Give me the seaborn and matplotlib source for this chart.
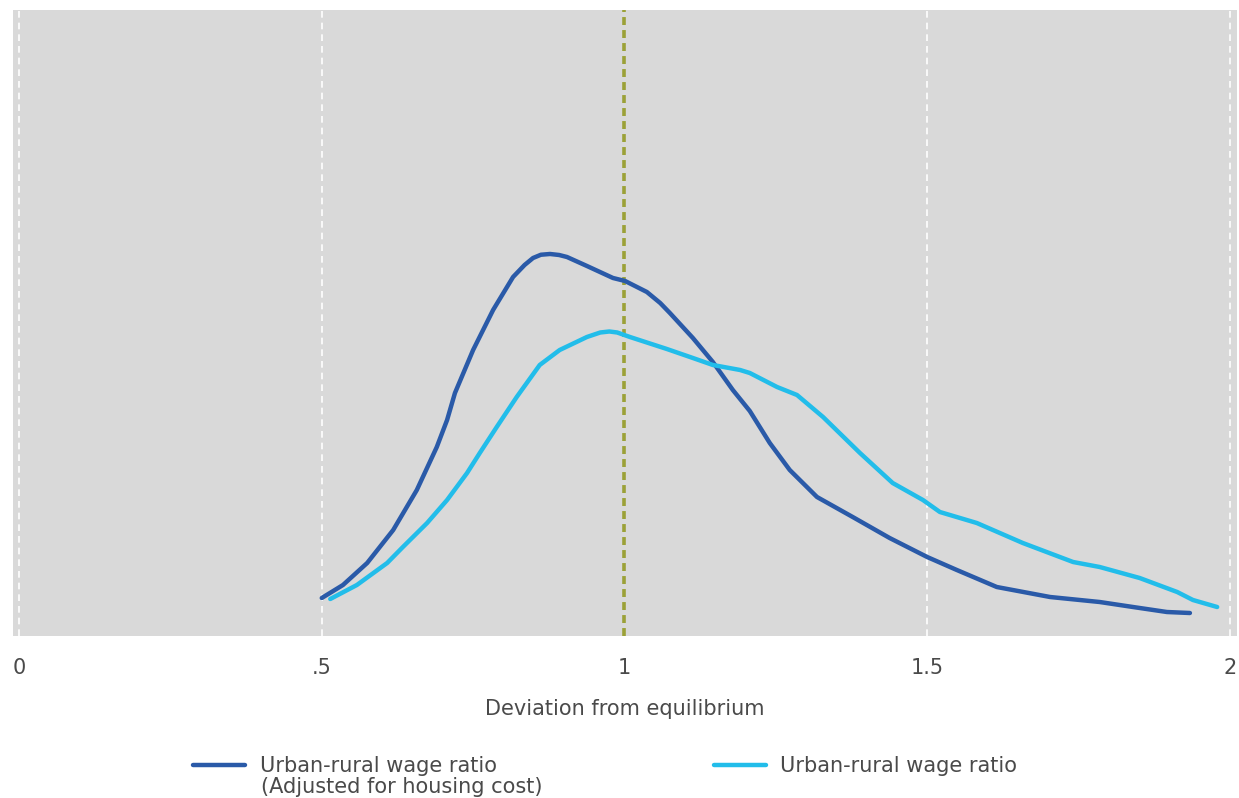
import pandas as pd
import matplotlib.pyplot as plt
import seaborn as sns

# 数据：密度曲线（纵轴单位任意）
adj_x = [0.500, 0.535, 0.575, 0.618, 0.657, 0.690, 0.707, 0.720, 0.750, 0.783,
         0.816, 0.835, 0.849, 0.862, 0.877, 0.892, 0.905, 0.938, 0.981, 1.001,
         1.037, 1.059, 1.075, 1.113, 1.146, 1.179, 1.207, 1.240, 1.273, 1.318,
         1.377, 1.438, 1.500, 1.549, 1.615, 1.703, 1.785, 1.840, 1.896, 1.934]
adj_y = [0.152, 0.204, 0.292, 0.424, 0.584, 0.756, 0.864, 0.972, 1.144, 1.304,
         1.436, 1.484, 1.512, 1.525, 1.528, 1.524, 1.516, 1.480, 1.432, 1.420,
         1.376, 1.332, 1.292, 1.192, 1.096, 0.984, 0.900, 0.772, 0.664, 0.556,
         0.476, 0.392, 0.316, 0.264, 0.196, 0.156, 0.136, 0.116, 0.096, 0.092]

raw_x = [0.514, 0.558, 0.608, 0.634, 0.674, 0.707, 0.740, 0.761, 0.789, 0.822,
         0.860, 0.893, 0.938, 0.960, 0.975, 0.988, 1.009, 1.070, 1.113, 1.146,
         1.191, 1.207, 1.252, 1.285, 1.328, 1.389, 1.443, 1.493, 1.521, 1.582,
         1.658, 1.741, 1.785, 1.851, 1.913, 1.939, 1.979]
raw_y = [0.148, 0.204, 0.292, 0.356, 0.452, 0.544, 0.652, 0.732, 0.836, 0.956,
         1.084, 1.144, 1.196, 1.214, 1.218, 1.214, 1.196, 1.148, 1.112, 1.084,
         1.064, 1.052, 0.996, 0.964, 0.876, 0.732, 0.612, 0.544, 0.496, 0.452,
         0.372, 0.296, 0.276, 0.232, 0.176, 0.144, 0.116]

series_adj = "Urban-rural wage ratio "
series_adj_note = "(Adjusted for housing cost)"
series_raw = "Urban-rural wage ratio"
tick_vals = [0, 0.5, 1, 1.5, 2]
tick_labels = ["0", ".5", "1", "1.5", "2"]
x_label = "Deviation from equilibrium"

df = pd.concat([
    pd.DataFrame({"x": adj_x, "y": adj_y, "series": series_adj}),
    pd.DataFrame({"x": raw_x, "y": raw_y, "series": series_raw}),
])

sns.set_style("white")
plt.rcParams['font.family'] = ['DejaVu Sans']
text_color = "#4a4a4a"
fs = 15

fig = plt.figure(figsize=(12.39, 7.98), dpi=100)
ax = fig.add_axes([0.0105, 0.203, 0.988, 0.7845])
ax.set_facecolor("#d9d9d9")

palette = {series_adj: "#2a5aa8", series_raw: "#22bdea"}

# 网格线
for v in [0, 0.5, 1.5, 2]:
    ax.axvline(v, color="white", lw=1.2, ls=(0, (4, 3)), zorder=1)
ax.axvline(1, color="#9ba137", lw=2.6, ls=(0, (2.2, 1.4)), zorder=1)

sns.lineplot(data=df, x="x", y="y", hue="series", palette=palette,
             hue_order=[series_adj, series_raw], sort=False, estimator=None,
             lw=3.2, ax=ax, zorder=3)

ax.set_xlim(-0.01, 2.012)
ax.set_ylim(0, 2.504)
ax.set_yticks([])
ax.set_xticks(tick_vals)
ax.set_xticklabels(tick_labels, fontsize=fs, color=text_color)
ax.tick_params(axis="x", length=10, width=1.5, color="#d9d9d9", pad=6)
ax.set_xlabel(x_label, fontsize=fs, color=text_color, labelpad=15)
ax.set_ylabel("")
for s in ax.spines.values():
    s.set_visible(False)

handles, labels = ax.get_legend_handles_labels()
ax.get_legend().remove()
fig.legend(handles, [l.strip() for l in labels], loc="center left",
           bbox_to_anchor=(0.156, 0.0401),
           ncol=2, frameon=False, fontsize=fs, handlelength=2.5,
           handletextpad=0.7, columnspacing=10.4, labelcolor=text_color,
           borderaxespad=0, borderpad=0)
for line in fig.legends[0].get_lines():
    line.set_linewidth(3.2)
# 第一条图例的第二行
fig.text(261 / 1239, (798 - 787) / 798, series_adj_note, fontsize=fs,
         color=text_color, ha="left", va="center")

plt.savefig("out.png", dpi=100)
